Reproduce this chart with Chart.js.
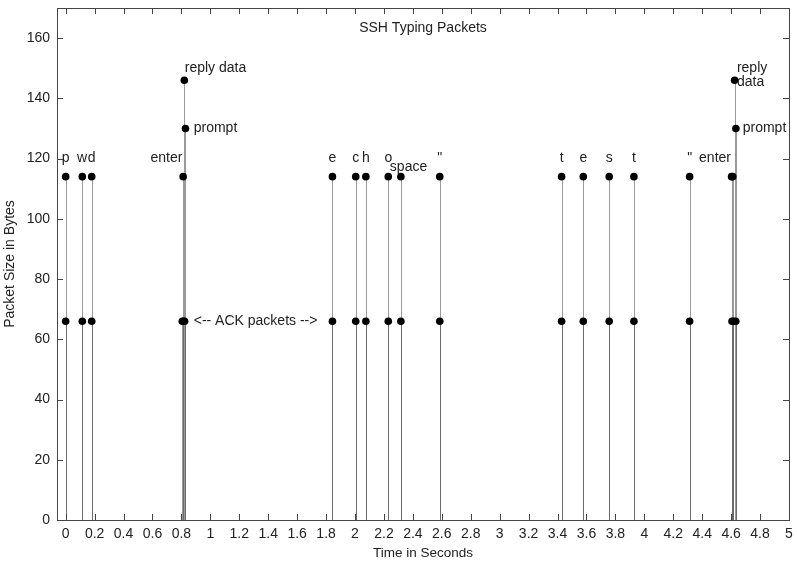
<!DOCTYPE html>
<html>
<head>
<meta charset="utf-8">
<script src="https://cdn.jsdelivr.net/npm/chart.js@4"></script>
<style>
html, body { margin: 0; padding: 0; background: #fff; }
#wrap { width: 797px; height: 563px; }
</style>
</head>
<body>
<div id="wrap"><canvas id="chart"></canvas></div>
<script>
// packet data
const typedTimes = [0, 0.115, 0.18, 0.812, 1.844, 2.005, 2.075, 2.23, 2.317, 2.586, 3.428, 3.578, 3.757, 3.928, 4.313, 4.603, 4.611]
const typedBytes = [114, 114, 114, 114, 114, 114, 114, 114, 114, 114, 114, 114, 114, 114, 114, 114, 114]

const ackTimes = [0, 0.115, 0.18, 0.806, 0.814, 0.822, 1.844, 2.005, 2.075, 2.23, 2.317, 2.586, 3.428, 3.578, 3.757, 3.928, 4.313, 4.606, 4.616, 4.632]
const ackBytes = [66, 66, 66, 66, 66, 66, 66, 66, 66, 66, 66, 66, 66, 66, 66, 66, 66, 66, 66, 66]

const replyTimes = [0.82, 4.624]
const replyBytes = [146, 146]

const promptTimes = [0.828, 4.633]
const promptBytes = [130, 130]

const xTicks = [0, 0.2, 0.4, 0.6, 0.8, 1, 1.2, 1.4, 1.6, 1.8, 2, 2.2, 2.4, 2.6, 2.8, 3, 3.2, 3.4, 3.6, 3.8, 4, 4.2, 4.4, 4.6, 4.8, 5]
const yTicks = [0, 20, 40, 60, 80, 100, 120, 140, 160]

// text labels, anchored in data coordinates
const labelText = ["p", "w", "d", "enter", "reply data", "prompt", "<-- ACK packets -->",
    "e", "c", "h", "o", "space", "\"",
    "t", "e", "s", "t", "\"", "enter", "reply", "data", "prompt"]
const labelX = [0, 0.114, 0.18, 0.807, 0.823, 0.885, 0.885,
    1.844, 2.005, 2.075, 2.23, 2.37, 2.586,
    3.428, 3.578, 3.757, 3.928, 4.313, 4.599, 4.64, 4.64, 4.68]
const labelY = [120, 120, 120, 120, 150, 130, 66,
    120, 120, 120, 120, 117, 120,
    120, 120, 120, 120, 120, 120, 150, 145.5, 130]
const labelAlign = ["center", "center", "center", "right", "left", "left", "left",
    "center", "center", "center", "center", "center", "center",
    "center", "center", "center", "center", "center", "right", "left", "left", "left"]

const FONT = "'Liberation Sans', Arial, sans-serif"

function pts(xs, ys) {
    return xs.map((x, i) => ({ x: x, y: ys[i] }))
}

const gnuplotLook = {
    id: "gnuplotLook",
    beforeDatasetsDraw(chart) {
        // impulses from zero up to each point
        const ctx = chart.ctx
        const base = chart.scales.y.getPixelForValue(0)
        ctx.save()
        ctx.strokeStyle = "rgba(70,70,70,0.55)"
        ctx.lineWidth = 1
        chart.data.datasets.forEach((ds, i) => {
            chart.getDatasetMeta(i).data.forEach(p => {
                const px = Math.round(p.x) + 0.5
                ctx.beginPath()
                ctx.moveTo(px, base)
                ctx.lineTo(px, p.y)
                ctx.stroke()
            })
        })
        ctx.restore()
    },
    afterDraw(chart) {
        const ctx = chart.ctx
        const a = chart.chartArea
        const xs = chart.scales.x
        const ys = chart.scales.y
        ctx.save()

        // frame and inward ticks on all sides
        ctx.strokeStyle = "#444"
        ctx.lineWidth = 1
        ctx.strokeRect(Math.round(a.left) + 0.5, Math.round(a.top) + 0.5,
            Math.round(a.right - a.left), Math.round(a.bottom - a.top))
        ctx.beginPath()
        xTicks.forEach(v => {
            const px = Math.round(xs.getPixelForValue(v)) + 0.5
            ctx.moveTo(px, a.bottom); ctx.lineTo(px, a.bottom - 6)
            ctx.moveTo(px, a.top); ctx.lineTo(px, a.top + 6)
        })
        yTicks.forEach(v => {
            const py = Math.round(ys.getPixelForValue(v)) + 0.5
            ctx.moveTo(a.left, py); ctx.lineTo(a.left + 6, py)
            ctx.moveTo(a.right, py); ctx.lineTo(a.right - 6, py)
        })
        ctx.stroke()

        // title inside the plot
        ctx.fillStyle = "#222"
        ctx.font = "14px " + FONT
        ctx.textAlign = "center"
        ctx.textBaseline = "middle"
        ctx.fillText("SSH Typing Packets", (a.left + a.right) / 2, a.top + 20)

        // point labels
        labelText.forEach((t, i) => {
            ctx.textAlign = labelAlign[i]
            ctx.fillText(t, xs.getPixelForValue(labelX[i]), ys.getPixelForValue(labelY[i]))
        })
        ctx.restore()
    }
}

const ctx = document.getElementById("chart").getContext("2d")

const pointStyle = {
    showLine: false,
    pointRadius: 3.8,
    pointHoverRadius: 3.8,
    pointBackgroundColor: "#000",
    pointBorderColor: "#000",
    pointBorderWidth: 0
}

new Chart(ctx, {
    type: "scatter",
    data: {
        datasets: [
            { label: "ack", data: pts(ackTimes, ackBytes), ...pointStyle },
            { label: "typed", data: pts(typedTimes, typedBytes), ...pointStyle },
            { label: "prompt", data: pts(promptTimes, promptBytes), ...pointStyle },
            { label: "reply", data: pts(replyTimes, replyBytes), ...pointStyle }
        ]
    },
    options: {
        responsive: true,
        maintainAspectRatio: false,
        animation: false,
        layout: { padding: { top: 8, right: 8, left: 0, bottom: 0 } },
        plugins: {
            legend: { display: false },
            tooltip: { enabled: false }
        },
        scales: {
            x: {
                type: "linear",
                min: -0.06,
                max: 5,
                grid: { display: false, drawTicks: false },
                border: { display: false },
                afterBuildTicks: s => { s.ticks = xTicks.map(v => ({ value: v })) },
                afterFit: s => { s.height = 43; s.paddingLeft = 0; s.paddingRight = 0 },
                ticks: {
                    autoSkip: false,
                    maxRotation: 0,
                    padding: 6,
                    color: "#222",
                    font: { family: FONT, size: 14 },
                    callback: v => String(+Number(v).toFixed(1))
                },
                title: {
                    display: true,
                    text: "Time in Seconds",
                    color: "#222",
                    font: { family: FONT, size: 13.5 },
                    padding: { top: 0, bottom: 2 }
                }
            },
            y: {
                min: 0,
                max: 170,
                grid: { display: false, drawTicks: false },
                border: { display: false },
                afterBuildTicks: s => { s.ticks = yTicks.map(v => ({ value: v })) },
                afterFit: s => { s.width = 57; s.paddingTop = 0; s.paddingBottom = 0 },
                ticks: {
                    padding: 7,
                    color: "#222",
                    font: { family: FONT, size: 14 }
                },
                title: {
                    display: true,
                    text: "Packet Size in Bytes",
                    color: "#222",
                    font: { family: FONT, size: 14, lineHeight: 1.4 },
                    padding: { top: 0, bottom: 0 }
                }
            }
        }
    },
    plugins: [gnuplotLook]
})
</script>
</body>
</html>
